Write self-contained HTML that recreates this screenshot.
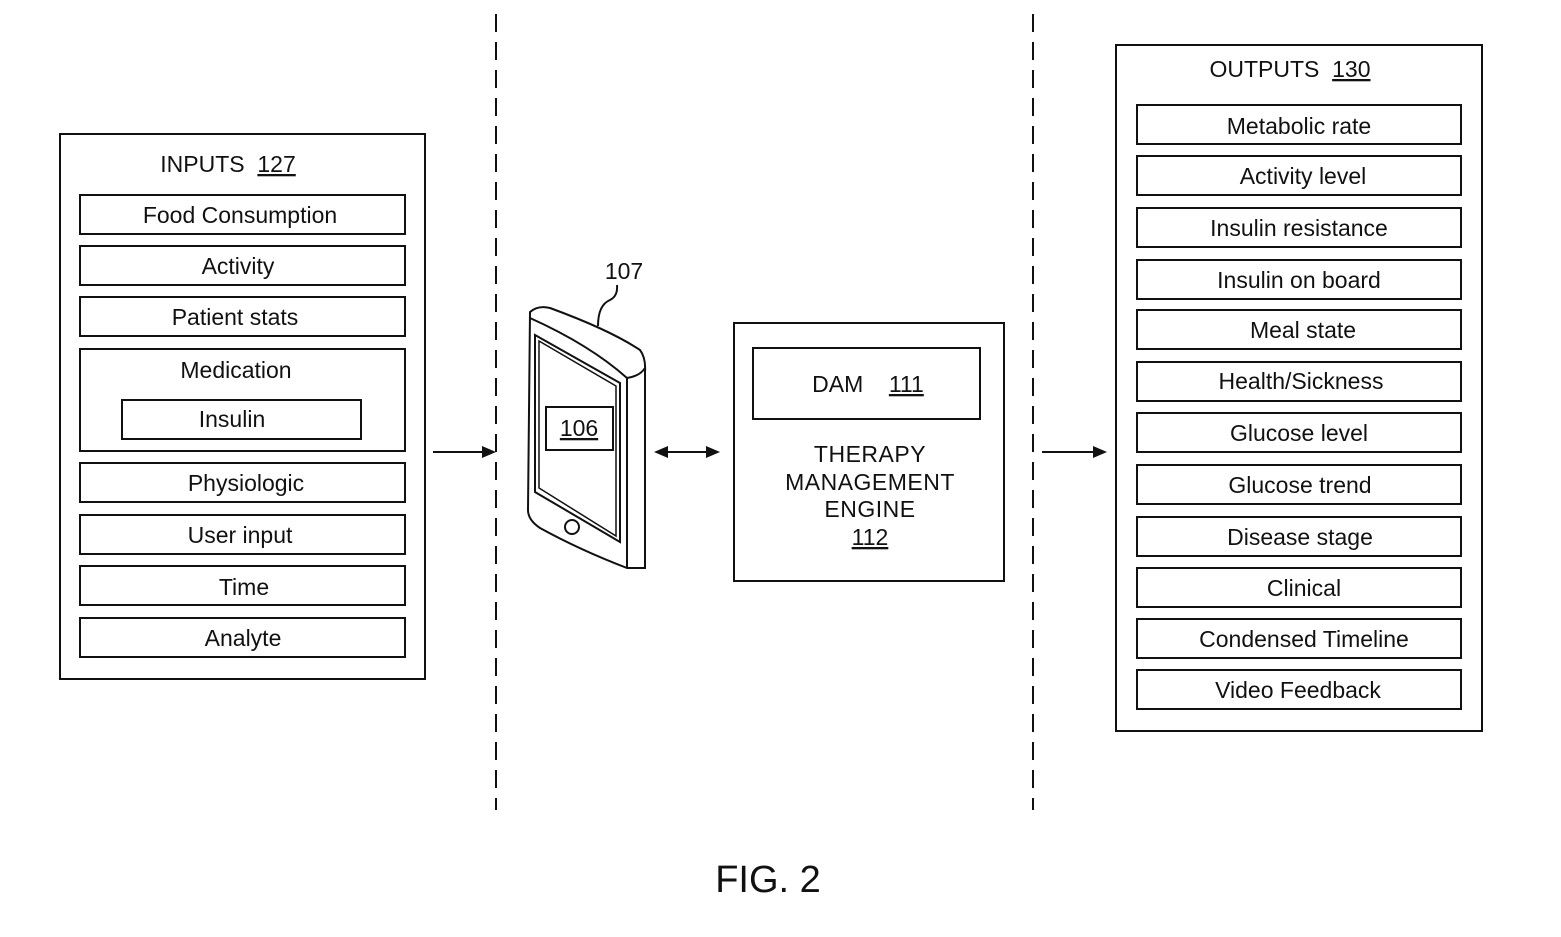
<!DOCTYPE html>
<html><head><style>
html,body{margin:0;padding:0;background:#fff;}
svg{display:block;}
text{font-family:"Liberation Sans",sans-serif;fill:#111;}
</style></head><body>
<svg width="1561" height="937" viewBox="0 0 1561 937" xmlns="http://www.w3.org/2000/svg">
<g stroke="#111" stroke-width="2" fill="none">
<line x1="496" y1="14" x2="496" y2="810" stroke-dasharray="18,10"/>
<line x1="1033" y1="14" x2="1033" y2="810" stroke-dasharray="18,10"/>
<rect x="60" y="134" width="365" height="545"/>
<rect x="80" y="195" width="325" height="39"/>
<rect x="80" y="246" width="325" height="39"/>
<rect x="80" y="297" width="325" height="39"/>
<rect x="80" y="349" width="325" height="102"/>
<rect x="122" y="400" width="239" height="39"/>
<rect x="80" y="463" width="325" height="39"/>
<rect x="80" y="515" width="325" height="39"/>
<rect x="80" y="566" width="325" height="39"/>
<rect x="80" y="618" width="325" height="39"/>
<rect x="1116" y="45" width="366" height="686"/>
<rect x="1137" y="105" width="324" height="39"/>
<rect x="1137" y="156" width="324" height="39"/>
<rect x="1137" y="208" width="324" height="39"/>
<rect x="1137" y="260" width="324" height="39"/>
<rect x="1137" y="310" width="324" height="39"/>
<rect x="1137" y="362" width="324" height="39"/>
<rect x="1137" y="413" width="324" height="39"/>
<rect x="1137" y="465" width="324" height="39"/>
<rect x="1137" y="517" width="324" height="39"/>
<rect x="1137" y="568" width="324" height="39"/>
<rect x="1137" y="619" width="324" height="39"/>
<rect x="1137" y="670" width="324" height="39"/>
<rect x="734" y="323" width="270" height="258"/>
<rect x="753" y="348" width="227" height="71"/>
<line x1="433" y1="452" x2="484" y2="452"/>
<line x1="662" y1="452" x2="712" y2="452"/>
<line x1="1042" y1="452" x2="1097" y2="452"/>
<path d="M530 312 Q538 305 550 308 Q610 330 640 350 Q646 358 645 372 L645 568 L627 568 Q580 550 540 528 Q528 520 528 510 Z"/>
<path d="M530 318 Q590 345 627 378 L627 568"/>
<path d="M627 378 Q640 376 645 368"/>
<path d="M535 335 L620 383 L620 542 L535 492 Z"/>
<path d="M539 341 L616 386 L616 536 L539 488 Z" stroke-width="1.5"/>
<circle cx="572" cy="527" r="7"/>
<rect x="546" y="407" width="67" height="43" fill="#fff"/>
<path d="M598 326 Q598 305 610 300 Q618 296 617 285"/>
</g>
<g fill="#111">
<polygon points="496,452 482,446 482,458"/>
<polygon points="654,452 668,446 668,458"/>
<polygon points="720,452 706,446 706,458"/>
<polygon points="1107,452 1093,446 1093,458"/>
</g>
<g font-size="23" text-anchor="middle">
<text x="228" y="172">INPUTS&#160;&#160;<tspan text-decoration="underline">127</tspan></text>
<text x="240" y="223">Food Consumption</text>
<text x="238" y="274">Activity</text>
<text x="235" y="325">Patient stats</text>
<text x="236" y="378">Medication</text>
<text x="232" y="427">Insulin</text>
<text x="246" y="491">Physiologic</text>
<text x="240" y="543">User input</text>
<text x="244" y="595">Time</text>
<text x="243" y="646">Analyte</text>
<text x="1290" y="77">OUTPUTS&#160;&#160;<tspan text-decoration="underline">130</tspan></text>
<text x="1299" y="134">Metabolic rate</text>
<text x="1303" y="184">Activity level</text>
<text x="1299" y="236">Insulin resistance</text>
<text x="1299" y="288">Insulin on board</text>
<text x="1303" y="338">Meal state</text>
<text x="1301" y="389">Health/Sickness</text>
<text x="1299" y="441">Glucose level</text>
<text x="1300" y="493">Glucose trend</text>
<text x="1300" y="545">Disease stage</text>
<text x="1304" y="596">Clinical</text>
<text x="1304" y="647">Condensed Timeline</text>
<text x="1298" y="698">Video Feedback</text>
<text x="868" y="392">DAM&#160;&#160;&#160;&#160;<tspan text-decoration="underline">111</tspan></text>
<text x="870" y="462" letter-spacing="0.5">THERAPY</text>
<text x="870" y="490" letter-spacing="0.5">MANAGEMENT</text>
<text x="870" y="517" letter-spacing="0.5">ENGINE</text>
<text x="870" y="545" text-decoration="underline">112</text>
<text x="579" y="436" text-decoration="underline">106</text>
<text x="624" y="279">107</text>
<text x="768" y="892" font-size="38">FIG. 2</text>
</g>
</svg>
</body></html>
